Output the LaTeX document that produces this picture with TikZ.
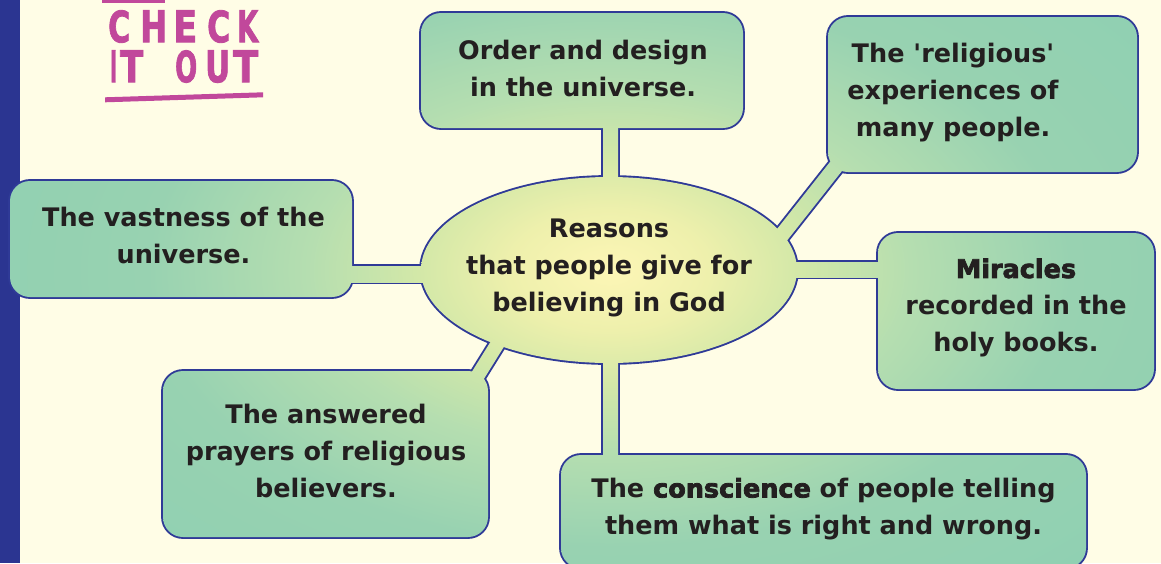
\documentclass[tikz,border=0pt]{standalone}
\usepackage{fontspec}
\usetikzlibrary{calc}
\newfontfamily\bx{DejaVu Sans}
\newfontfamily\bxh{DejaVu Sans}[BoldFeatures={FakeBold=3}]
\newfontfamily\logofont{DejaVu Sans Condensed}[BoldFeatures={FakeBold=2}]
\definecolor{bg}{HTML}{FFFDE6}
\definecolor{strip}{HTML}{2B3591}
\definecolor{olc}{HTML}{2F3A97}
\definecolor{tc}{HTML}{231F20}
\definecolor{mag}{HTML}{C1489B}
\definecolor{g0}{HTML}{FDF6B6}
\definecolor{g1}{HTML}{EEF0AC}
\definecolor{g2}{HTML}{D3E8A8}
\definecolor{g3}{HTML}{B5DEB0}
\definecolor{g4}{HTML}{98D2B1}
\definecolor{g5}{HTML}{8FD0B2}
\pgfdeclareradialshading{glow}{\pgfpoint{0bp}{0bp}}{color(0bp)=(g0); color(100bp)=(g1); color(190bp)=(g2); color(300bp)=(g3); color(460bp)=(g4); color(700bp)=(g5)}
\newcommand\barpath[3]{($(#1)!#3!90:(#2)$) -- ($(#2)!#3!-90:(#1)$) -- ($(#2)!#3!90:(#1)$) -- ($(#1)!#3!-90:(#2)$) -- cycle}
\newcommand\outl[2]{\draw[olc, line width=3.8pt, #1] #2;}
\newcommand\shd[2]{\begin{scope}\clip[#1] #2;\begin{scope}[shift={(609,270)}, yscale=0.6]\node[inner sep=0pt, transform shape] {\pgfuseshading{glow}};\end{scope}\end{scope}}
\newcommand\pieces[1]{%
 #1{rounded corners=20pt}{(top.south west) rectangle (top.north east)}%
 #1{rounded corners=20pt}{(tr.south west) rectangle (tr.north east)}%
 #1{rounded corners=20pt}{(lft.south west) rectangle (lft.north east)}%
 #1{rounded corners=20pt}{(rgt.south west) rectangle (rgt.north east)}%
 #1{rounded corners=20pt}{(bl.south west) rectangle (bl.north east)}%
 #1{rounded corners=20pt}{(bot.south west) rectangle (bot.north east)}%
 #1{}{\barpath{ta}{tb}{7.5pt}}%
 #1{}{\barpath{ba}{bb}{7.5pt}}%
 #1{}{\barpath{la}{lb}{8pt}}%
 #1{}{\barpath{ra}{rb}{7.5pt}}%
 #1{}{\barpath{da}{db}{7.5pt}}%
 #1{}{\barpath{ea}{eb}{7pt}}%
 #1{}{(ell) ellipse [x radius=188pt, y radius=93pt]}%
}
% letter of the logo: left x, right x, top y, name, letter
\newcommand\logoletter[5]{\node[logo] (#4) at (#1,#3) {\resizebox{\dimexpr#2pt-#1pt\relax}{32pt}{\logofont\bfseries #5}};}
\tikzset{
 frame/.style={inner sep=0pt, outer sep=0pt, draw=none},
 txt/.style={inner sep=0pt, align=center, text=tc, font=\bx\bfseries\fontsize{25.5}{37}\selectfont},
 logo/.style={inner sep=0pt, anchor=north west, text=mag}
}
\begin{document}
\begin{tikzpicture}[x=1pt, y=-1pt]
\path[use as bounding box, fill=bg] (0,0) rectangle (1161,563);
\fill[strip] (0,0) rectangle (20,563);
% geometry frames
\node[frame, minimum width=322pt, minimum height=115pt] (top) at (582,70.5) {};
\node[frame, minimum width=309pt, minimum height=155pt] (tr) at (982.5,94.5) {};
\node[frame, minimum width=342pt, minimum height=116pt] (lft) at (181,239) {};
\node[frame, minimum width=276pt, minimum height=156pt] (rgt) at (1016,311) {};
\node[frame, minimum width=325pt, minimum height=166pt] (bl) at (325.5,454) {};
\node[frame, minimum width=525pt, minimum height=113pt] (bot) at (823.5,511.5) {};
\coordinate (ell) at (609,270);
\coordinate (ta) at (610.5,120); \coordinate (tb) at (610.5,190);
\coordinate (ba) at (610.5,350); \coordinate (bb) at (610.5,465);
\coordinate (la) at (340,274); \coordinate (lb) at (440,274);
\coordinate (ra) at (780,269.5); \coordinate (rb) at (890,269.5);
\coordinate (da) at (770,250); \coordinate (db) at (845,155);
\coordinate (ea) at (503,335); \coordinate (eb) at (470,388);
% outline then fill
\pieces\outl
\pieces\shd
% texts
\node[txt] (topT) at (583,68) {Order and design\\in the universe.};
\node[txt] (trT) at (953,93) {The 'religious'\\experiences of\\many people.};
\node[txt] (lftT) at (183.5,235) {The vastness of the\\universe.};
\node[txt] (ellT) at (609,268) {Reasons\\that people give for\\believing in God};
\node[txt] (rgtT) at (1016,308) {{\bxh\bfseries Miracles}\\recorded in the\\holy books.};
\node[txt] (blT) at (326,451) {The answered\\prayers of religious\\believers.};
\node[txt] (botT) at (823.5,509) {The {\bxh\bfseries conscience} of people telling\\them what is right and wrong.};
% logo
\logoletter{108}{130}{10}{c1}{C}
\logoletter{140}{167}{10}{c2}{H}
\logoletter{173}{197}{10}{c3}{E}
\logoletter{207}{230}{10}{c4}{C}
\logoletter{237}{258}{10}{c5}{K}
\logoletter{110}{117}{50}{c6}{I}
\logoletter{120}{143}{50}{c7}{T}
\logoletter{175}{197}{50}{c8}{O}
\logoletter{205}{230}{50}{c9}{U}
\logoletter{233}{258}{50}{c10}{T}
\fill[mag] (105,97.3) -- (263,92.3) -- (263,97.3) -- (105,102.3) -- cycle;
\fill[mag] (102,0) rectangle (165,2.5);
\end{tikzpicture}
\end{document}
